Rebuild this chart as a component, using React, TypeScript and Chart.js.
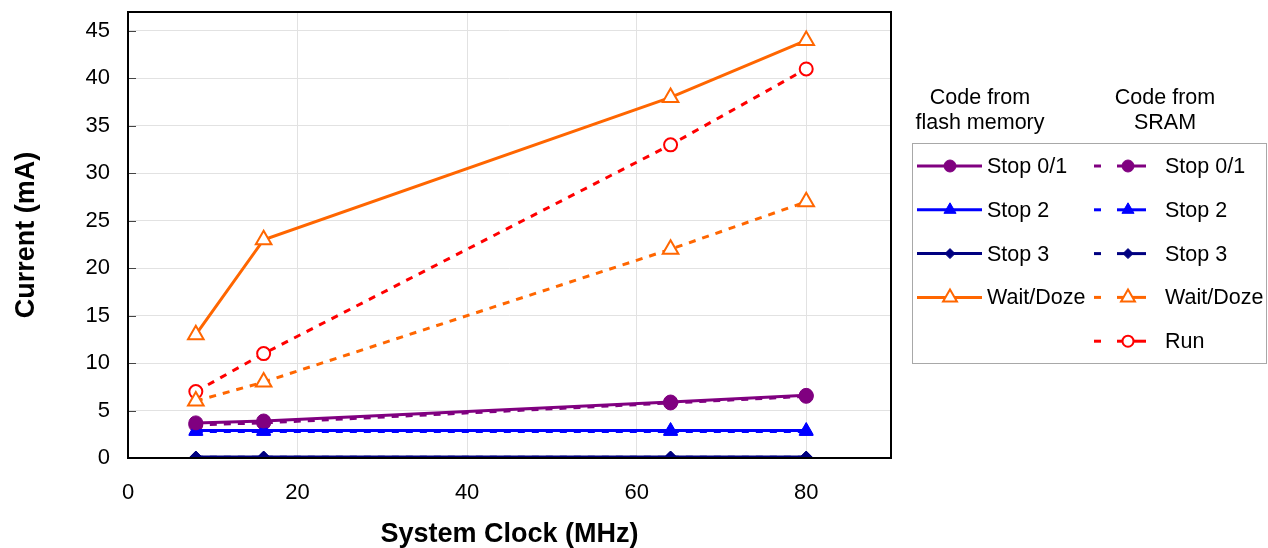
import React, { useEffect, useRef } from 'react';
import { Chart, registerables } from 'chart.js';
import { drawPoint } from 'chart.js/helpers';

Chart.register(...registerables);

// ---- data ----
const clockMHz = [8, 16, 64, 80];
const flashStop01 = [3.7, 3.9, 5.9, 6.6];
const flashStop2 = [2.9, 2.9, 2.9, 2.9];
const flashStop3 = [0.1, 0.1, 0.1, 0.1];
const flashWaitDoze = [13, 23, 38, 44];
const sramStop01 = [3.5, 3.7, 5.8, 6.5];
const sramStop2 = [2.8, 2.8, 2.8, 2.8];
const sramStop3 = [0.08, 0.08, 0.08, 0.08];
const sramWaitDoze = [6, 8, 22, 27];
const sramRun = [7, 11, 33, 41];

const xTickValues = [0, 20, 40, 60, 80];
const yTickValues = [0, 5, 10, 15, 20, 25, 30, 35, 40, 45];
const xTitle = 'System Clock (MHz)';
const yTitle = 'Current (mA)';
const legendHeaderFlash = ['Code from', 'flash memory'];
const legendHeaderSram = ['Code from', 'SRAM'];

const FONT = '"Liberation Sans", Arial, Helvetica, sans-serif';

type Series = {
  label: string;
  values: number[];
  color: string;
  pointStyle: string;
  radius: number;
  hollow: boolean;
  dashed: boolean;
  column: number;
  row: number;
};

const series: Series[] = [
  { label: 'Stop 0/1', values: flashStop01, color: '#800080', pointStyle: 'circle', radius: 7, hollow: false, dashed: false, column: 0, row: 0 },
  { label: 'Stop 2', values: flashStop2, color: '#0000FF', pointStyle: 'triangle', radius: 8, hollow: false, dashed: false, column: 0, row: 1 },
  { label: 'Stop 3', values: flashStop3, color: '#000080', pointStyle: 'rectRot', radius: 6, hollow: false, dashed: false, column: 0, row: 2 },
  { label: 'Wait/Doze', values: flashWaitDoze, color: '#FF6600', pointStyle: 'triangle', radius: 9, hollow: true, dashed: false, column: 0, row: 3 },
  { label: 'Stop 0/1', values: sramStop01, color: '#800080', pointStyle: 'circle', radius: 7, hollow: false, dashed: true, column: 1, row: 0 },
  { label: 'Stop 2', values: sramStop2, color: '#0000FF', pointStyle: 'triangle', radius: 8, hollow: false, dashed: true, column: 1, row: 1 },
  { label: 'Stop 3', values: sramStop3, color: '#000080', pointStyle: 'rectRot', radius: 6, hollow: false, dashed: true, column: 1, row: 2 },
  { label: 'Wait/Doze', values: sramWaitDoze, color: '#FF6600', pointStyle: 'triangle', radius: 9, hollow: true, dashed: true, column: 1, row: 3 },
  { label: 'Run', values: sramRun, color: '#FF0000', pointStyle: 'circle', radius: 6.5, hollow: true, dashed: true, column: 1, row: 4 },
];

const framePlugin = {
  id: 'frameAndLegend',
  afterDraw(chart: any) {
    const ctx = chart.ctx as CanvasRenderingContext2D;
    const { left, top, right, bottom } = chart.chartArea;
    const yScale = chart.scales.y;
    ctx.save();
    // inner tick marks on y axis
    ctx.strokeStyle = '#444';
    ctx.lineWidth = 1;
    yTickValues.forEach((v) => {
      const py = Math.round(yScale.getPixelForValue(v)) + 0.5;
      ctx.beginPath();
      ctx.moveTo(left, py);
      ctx.lineTo(left + 8, py);
      ctx.stroke();
    });
    // plot border
    ctx.strokeStyle = '#000';
    ctx.lineWidth = 2;
    ctx.strokeRect(left, top, right - left, bottom - top);

    // legend
    const fs = 21.5;
    ctx.font = `${fs}px ${FONT}`;
    ctx.fillStyle = '#000';
    ctx.textAlign = 'center';
    ctx.textBaseline = 'middle';
    legendHeaderFlash.forEach((t, i) => ctx.fillText(t, 980, 98 + i * 25));
    legendHeaderSram.forEach((t, i) => ctx.fillText(t, 1165, 98 + i * 25));

    ctx.strokeStyle = '#a8a8a8';
    ctx.lineWidth = 1;
    ctx.strokeRect(912.5, 143.5, 354, 220);

    const rowY = (r: number) => 166 + r * 43.8;
    series.forEach((s) => {
      const y = rowY(s.row);
      ctx.strokeStyle = s.color;
      ctx.lineWidth = 3;
      let mx: number;
      let tx: number;
      if (s.column === 0) {
        ctx.beginPath();
        ctx.moveTo(917, y);
        ctx.lineTo(982, y);
        ctx.stroke();
        mx = 950;
        tx = 987;
      } else {
        const segs = [[1094, 1101], [1117, 1146]];
        segs.forEach(([a, b]) => {
          ctx.beginPath();
          ctx.moveTo(a, y);
          ctx.lineTo(b, y);
          ctx.stroke();
        });
        mx = 1128;
        tx = 1165;
      }
      ctx.fillStyle = s.hollow ? '#fff' : s.color;
      ctx.strokeStyle = s.color;
      ctx.lineWidth = s.hollow ? 2 : 1;
      drawPoint(ctx, { pointStyle: s.pointStyle, radius: s.radius - 1, rotation: 0, borderWidth: ctx.lineWidth } as any, mx, y);
      ctx.fillStyle = '#000';
      ctx.textAlign = 'left';
      ctx.font = `${fs}px ${FONT}`;
      ctx.fillText(s.label, tx, y + 1);
    });
    ctx.restore();
  },
};

export default function App() {
  const ref = useRef<HTMLCanvasElement | null>(null);
  useEffect(() => {
    document.body.style.margin = '0';
    if (!ref.current) return;
    const datasets = series.map((s) => ({
      label: s.label,
      data: clockMHz.map((x, k) => ({ x, y: s.values[k] })),
      borderColor: s.color,
      backgroundColor: s.hollow ? '#ffffff' : s.color,
      borderWidth: 3,
      borderDash: s.dashed ? [7, 7] : [],
      pointStyle: s.pointStyle,
      pointRadius: s.radius,
      pointBorderWidth: s.hollow ? 2 : 1,
      pointBorderColor: s.color,
      pointBackgroundColor: s.hollow ? '#ffffff' : s.color,
      tension: 0,
      fill: false,
      order: s.dashed ? 2 : 1,
    }));
    const chart = new Chart(ref.current, {
      type: 'line',
      data: { datasets: datasets as any },
      options: {
        responsive: false,
        animation: false,
        devicePixelRatio: 1,
        layout: { padding: { left: 0, top: 12, right: 377, bottom: 0 } },
        plugins: { legend: { display: false }, tooltip: { enabled: false } },
        scales: {
          x: {
            type: 'linear',
            min: 0,
            max: 90,
            ticks: { stepSize: 20, padding: 22, color: '#000', font: { family: FONT, size: 22 } },
            afterBuildTicks: (axis: any) => {
              axis.ticks = xTickValues.map((v) => ({ value: v }));
            },
            afterFit: (axis: any) => {
              axis.height = 90;
              axis.paddingLeft = 0;
              axis.paddingRight = 0;
              axis.paddingTop = 0;
              axis.paddingBottom = 0;
            },
            grid: { color: '#e2e2e2', lineWidth: 1, drawTicks: false },
            border: { display: false },
            title: {
              display: true,
              text: xTitle,
              color: '#000',
              font: { family: FONT, size: 27, weight: 'bold', lineHeight: 1 },
              padding: { top: 0, bottom: 0 },
            },
          },
          y: {
            type: 'linear',
            min: 0,
            max: 47,
            ticks: { stepSize: 5, padding: 18, color: '#000', font: { family: FONT, size: 22 } },
            afterBuildTicks: (axis: any) => {
              axis.ticks = yTickValues.map((v) => ({ value: v }));
            },
            afterFit: (axis: any) => {
              axis.width = 128;
              axis.paddingTop = 0;
              axis.paddingBottom = 0;
              axis.paddingLeft = 0;
              axis.paddingRight = 0;
            },
            grid: { color: '#e2e2e2', lineWidth: 1, drawTicks: false },
            border: { display: false },
            title: {
              display: true,
              text: yTitle,
              color: '#000',
              font: { family: FONT, size: 27, weight: 'bold', lineHeight: 1 },
              padding: { top: 13.5, bottom: 0 },
            },
          },
        },
      },
      plugins: [framePlugin],
    });
    return () => chart.destroy();
  }, []);
  return (
    <div style={{ width: 1268, height: 548 }}>
      <canvas ref={ref} width={1268} height={548} />
    </div>
  );
}
